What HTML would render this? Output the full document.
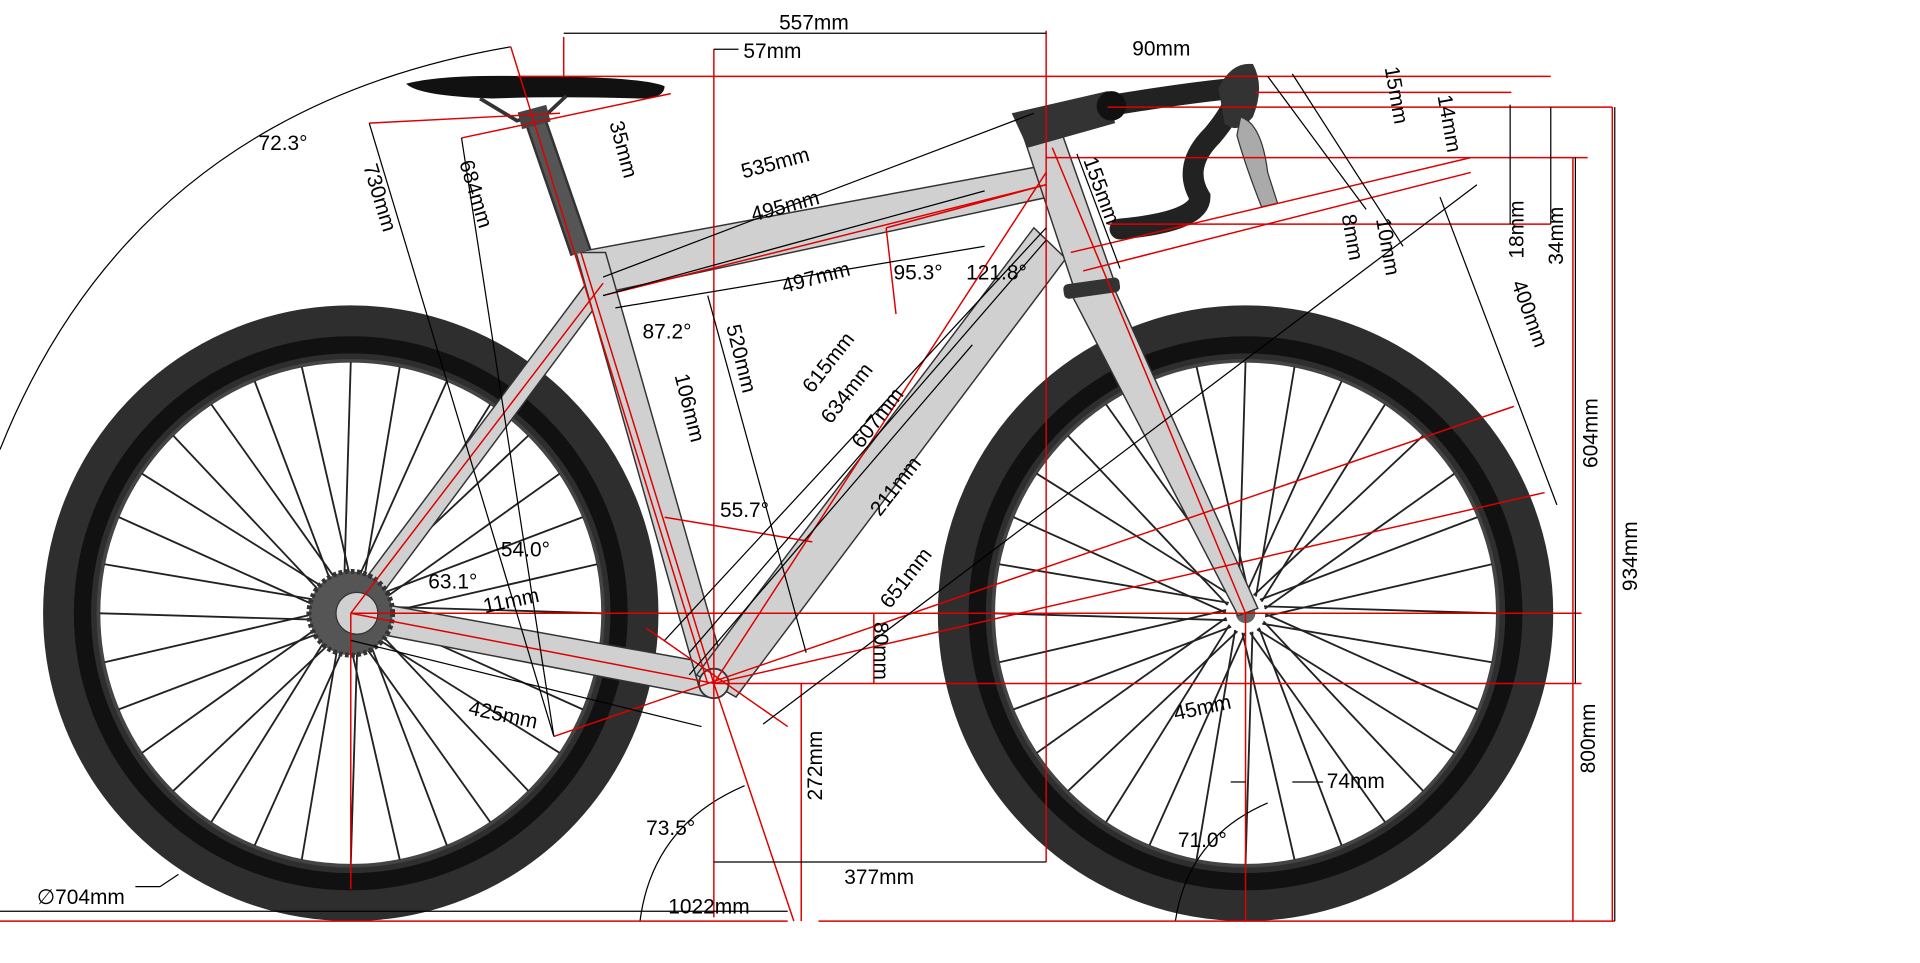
<!DOCTYPE html>
<html><head><meta charset="utf-8"><style>
html,body{margin:0;padding:0;background:#fff;overflow:hidden}
svg{display:block}
text{font-family:"Liberation Sans",sans-serif;font-size:17px;fill:#000}
</style></head><body>
<svg id="s" width="1920" height="963" viewBox="0 0 1560 782" preserveAspectRatio="none" xmlns="http://www.w3.org/2000/svg">
<rect width="1560" height="782" fill="#fff"/>
<g id="wheels"></g>
<path d="M0,365 Q110,90 415,38" fill="none" stroke="#000" stroke-width="1"/>
<path d="M520,748 Q530,670 605,638" fill="none" stroke="#000" stroke-width="1"/>
<path d="M955,748 Q965,680 1030,652" fill="none" stroke="#000" stroke-width="1"/>
<g stroke="#333" stroke-width="1.2" fill="#d0d0d0">
<polygon points="285,486 585,540 575,566 283,510"/>
<polygon points="282,490 478,228 492,238 295,503"/>
<polygon points="468,205 845,135 852,160 490,238"/>
<polygon points="468,205 492,205 590,548 568,558"/>
<polygon points="840,185 866,210 598,566 566,548"/>
<polygon points="832,112 862,106 908,236 876,244"/>
<polygon points="870,238 906,236 1022,494 1006,500"/>
</g>
<rect x="864" y="228" width="46" height="12" rx="4" fill="#333" transform="rotate(-8 887 234)"/>
<circle cx="580" cy="555" r="12" fill="#ddd" stroke="#333" stroke-width="1.5"/>
<circle cx="285" cy="498" r="34" fill="#555" stroke="#333" stroke-dasharray="3 2" stroke-width="4"/>
<circle cx="290" cy="498" r="17" fill="#d0d0d0" stroke="#333"/>
<line x1="472" y1="205" x2="434" y2="95" stroke="#333" stroke-width="18"/>
<line x1="472" y1="205" x2="434" y2="95" stroke="#555" stroke-width="14"/>
<path d="M330,68 Q360,60 430,62 Q520,62 540,70 Q540,80 520,80 Q450,78 400,80 Q340,78 330,68Z" fill="#111"/>
<path d="M390,80 L420,98 L445,92 L460,78" fill="none" stroke="#333" stroke-width="3"/>
<rect x="422" y="88" width="24" height="14" fill="#444" transform="rotate(-15 434 95)"/>
<polygon points="822,92 900,74 906,100 835,120" fill="#333"/>
<path d="M900,86 Q960,76 1000,72 Q1010,80 985,110 Q960,135 975,160 Q975,180 910,186" fill="none" stroke="#222" stroke-width="17" stroke-linecap="round"/>
<circle cx="903" cy="86" r="12" fill="#111"/>
<path d="M990,72 Q1000,50 1018,52 Q1028,70 1018,95 Q1005,110 995,100Z" fill="#333"/>
<path d="M1008,95 Q1025,100 1030,140 L1038,165 L1025,168 Q1012,135 1005,110Z" fill="#aaa" stroke="#333"/>
<g stroke="#d00" stroke-width="1.2" fill="none">
<line x1="0" y1="748" x2="640" y2="748"/><line x1="665" y1="748" x2="1312" y2="748"/>
<line x1="580" y1="555" x2="1285" y2="555"/><line x1="285" y1="498" x2="1285" y2="498"/>
<line x1="850" y1="25" x2="850" y2="700"/><line x1="580" y1="40" x2="580" y2="745"/>
<line x1="458" y1="30" x2="458" y2="62"/>
<line x1="420" y1="62" x2="1260" y2="62"/><line x1="850" y1="128" x2="1290" y2="128"/>
<line x1="900" y1="182" x2="1260" y2="182"/><line x1="900" y1="87" x2="1310" y2="87"/>
<line x1="1020" y1="75" x2="1228" y2="75"/>
<line x1="285" y1="498" x2="285" y2="722"/><line x1="1012" y1="498" x2="1012" y2="748"/>
<line x1="651" y1="555" x2="651" y2="748"/><line x1="710" y1="498" x2="710" y2="555"/>
<line x1="1278" y1="128" x2="1278" y2="748"/><line x1="1310" y1="87" x2="1310" y2="748"/>
<line x1="580" y1="555" x2="645" y2="748"/><line x1="855" y1="120" x2="1012" y2="498"/>
<line x1="472" y1="205" x2="580" y2="555"/><line x1="415" y1="38" x2="575" y2="555"/>
<line x1="490" y1="240" x2="850" y2="150"/><line x1="375" y1="112" x2="545" y2="76"/>
<line x1="300" y1="100" x2="455" y2="92"/>
<line x1="580" y1="555" x2="850" y2="140"/><line x1="285" y1="498" x2="490" y2="230"/>
<line x1="285" y1="498" x2="580" y2="555"/><line x1="450" y1="598" x2="1230" y2="330"/>
<line x1="870" y1="205" x2="1195" y2="128"/><line x1="880" y1="220" x2="1195" y2="140"/>
<line x1="720" y1="185" x2="850" y2="150"/><line x1="720" y1="185" x2="728" y2="255"/>
<line x1="540" y1="420" x2="660" y2="440"/><line x1="525" y1="510" x2="640" y2="590"/>
<line x1="580" y1="555" x2="1255" y2="400"/>
</g>
<g stroke="#000" stroke-width="1" fill="none">
<line x1="458" y1="27" x2="850" y2="27"/><line x1="580" y1="40" x2="600" y2="40"/>
<line x1="580" y1="700" x2="850" y2="700"/><line x1="0" y1="740" x2="640" y2="740"/>
<line x1="490" y1="225" x2="840" y2="92"/><line x1="490" y1="240" x2="800" y2="155"/>
<line x1="500" y1="250" x2="800" y2="200"/>
<line x1="540" y1="520" x2="850" y2="185"/><line x1="560" y1="530" x2="850" y2="195"/>
<line x1="560" y1="548" x2="790" y2="280"/><line x1="620" y1="588" x2="1200" y2="150"/>
<line x1="300" y1="100" x2="450" y2="598"/><line x1="375" y1="112" x2="450" y2="598"/>
<line x1="575" y1="240" x2="655" y2="530"/><line x1="285" y1="520" x2="570" y2="590"/>
<line x1="1170" y1="160" x2="1265" y2="410"/><line x1="875" y1="125" x2="910" y2="218"/>
<line x1="1280" y1="128" x2="1280" y2="555"/><line x1="1312" y1="87" x2="1312" y2="748"/>
<line x1="1227" y1="85" x2="1227" y2="182"/><line x1="1260" y1="87" x2="1260" y2="182"/>
<line x1="1030" y1="62" x2="1110" y2="170"/><line x1="1050" y1="60" x2="1140" y2="200"/>
<line x1="1000" y1="635" x2="1012" y2="635"/><line x1="1050" y1="635" x2="1075" y2="635"/>
<line x1="130" y1="720" x2="145" y2="710"/><line x1="110" y1="720" x2="130" y2="720"/>
</g>
<text x="633" y="24">557mm</text>
<text x="604" y="47">57mm</text>
<text x="920" y="45">90mm</text>
<text x="210" y="122">72.3°</text>
<text x="604" y="145" transform="rotate(-15 604 145)">535mm</text>
<text x="612" y="180" transform="rotate(-15 612 180)">495mm</text>
<text x="637" y="238" transform="rotate(-15 637 238)">497mm</text>
<text x="726" y="227">95.3°</text>
<text x="785" y="227">121.8°</text>
<text x="522" y="275">87.2°</text>
<text x="495" y="100" transform="rotate(75 495 100)">35mm</text>
<text x="295" y="135" transform="rotate(73 295 135)">730mm</text>
<text x="373" y="132" transform="rotate(73 373 132)">684mm</text>
<text x="590" y="265" transform="rotate(76 590 265)">520mm</text>
<text x="548" y="305" transform="rotate(76 548 305)">106mm</text>
<text x="660" y="320" transform="rotate(-52 660 320)">615mm</text>
<text x="675" y="345" transform="rotate(-52 675 345)">634mm</text>
<text x="700" y="365" transform="rotate(-52 700 365)">607mm</text>
<text x="715" y="420" transform="rotate(-52 715 420)">211mm</text>
<text x="723" y="495" transform="rotate(-52 723 495)">651mm</text>
<text x="585" y="420">55.7°</text>
<text x="407" y="452">54.0°</text>
<text x="348" y="478">63.1°</text>
<text x="394" y="498" transform="rotate(-12 394 498)">11mm</text>
<text x="380" y="580" transform="rotate(12 380 580)">425mm</text>
<text x="710" y="505" transform="rotate(90 710 505)">80mm</text>
<text x="0" y="0" transform="translate(668,650) rotate(-90)">272mm</text>
<text x="525" y="678">73.5°</text>
<text x="686" y="718">377mm</text>
<text x="543" y="742">1022mm</text>
<text x="30" y="734">∅704mm</text>
<text x="957" y="688">71.0°</text>
<text x="955" y="585" transform="rotate(-12 955 585)">45mm</text>
<text x="1078" y="640">74mm</text>
<text x="880" y="130" transform="rotate(70 880 130)">155mm</text>
<text x="1228" y="230" transform="rotate(70 1228 230)">400mm</text>
<text x="0" y="0" transform="translate(1298,380) rotate(-90)">604mm</text>
<text x="0" y="0" transform="translate(1296,628) rotate(-90)">800mm</text>
<text x="0" y="0" transform="translate(1330,480) rotate(-90)">934mm</text>
<text x="0" y="0" transform="translate(1238,210) rotate(-90)">18mm</text>
<text x="0" y="0" transform="translate(1270,215) rotate(-90)">34mm</text>
<text x="1125" y="55" transform="rotate(80 1125 55)">15mm</text>
<text x="1168" y="78" transform="rotate(80 1168 78)">14mm</text>
<text x="1090" y="175" transform="rotate(80 1090 175)">8mm</text>
<text x="1118" y="178" transform="rotate(80 1118 178)">10mm</text>
</svg>
<script>
(function(){
var g=document.getElementById('wheels'),h='';
[[285,498],[1012,498]].forEach(function(c){
var x=c[0],y=c[1];
h+='<circle cx="'+x+'" cy="'+y+'" r="228" fill="none" stroke="#2e2e2e" stroke-width="44"/>';
h+='<circle cx="'+x+'" cy="'+y+'" r="218" fill="none" stroke="#111" stroke-width="14"/>';
h+='<circle cx="'+x+'" cy="'+y+'" r="205" fill="none" stroke="#444" stroke-width="3"/>';
for(var i=0;i<32;i++){var a=i*Math.PI*2/32,off=(i%2?1:-1)*0.12;
var x1=x+16*Math.cos(a+off*3),y1=y+16*Math.sin(a+off*3),x2=x+204*Math.cos(a),y2=y+204*Math.sin(a);
h+='<line x1="'+x1+'" y1="'+y1+'" x2="'+x2+'" y2="'+y2+'" stroke="#222" stroke-width="1.5"/>';}
h+='<circle cx="'+x+'" cy="'+y+'" r="8" fill="#666"/>';
});
g.innerHTML=h;
})();
</script>
</body></html>
